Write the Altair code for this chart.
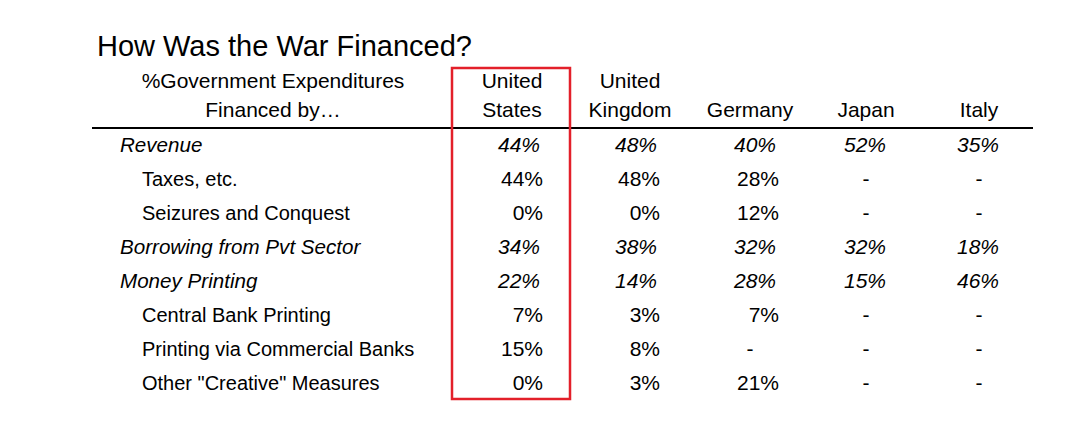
import altair as alt
import pandas as pd

title = "How Was the War Financed?"
stub_header = ["%Government Expenditures", "Financed by\u2026"]
rows = ["Revenue", "Taxes, etc.", "Seizures and Conquest", "Borrowing from Pvt Sector",
        "Money Printing", "Central Bank Printing", "Printing via Commercial Banks",
        'Other "Creative" Measures']
is_main = [True, False, False, True, True, False, False, False]
countries = ["US", "UK", "Germany", "Japan", "Italy"]
header_line1 = ["United", "United", "", "", ""]
header_line2 = ["States", "Kingdom", "Germany", "Japan", "Italy"]
us = ["44%", "44%", "0%", "34%", "22%", "7%", "15%", "0%"]
uk = ["48%", "48%", "0%", "38%", "14%", "3%", "8%", "3%"]
germany = ["40%", "28%", "12%", "32%", "28%", "7%", "-", "21%"]
japan = ["52%", "-", "-", "32%", "15%", "-", "-", "-"]
italy = ["35%", "-", "-", "18%", "46%", "-", "-", "-"]
highlight = "US"

# layout (styles / positions, not data)
FONT = "Liberation Sans"
FS = 20
FSM = 20.6
FSV = 21
W, H = 1064, 421
col_right = {"US": 535, "UK": 652, "Germany": 771, "Japan": 881, "Italy": 994}
head_x = {"US": 504, "UK": 622, "Germany": 742, "Japan": 858, "Italy": 971}

values = {"US": us, "UK": uk, "Germany": germany, "Japan": japan, "Italy": italy}
recs = []
for c in countries:
    for i, r in enumerate(rows):
        recs.append({"row": r, "country": c, "value": values[c][i], "main": is_main[i]})
df = pd.DataFrame(recs)
stub = pd.DataFrame({"row": rows, "main": is_main})
heads = pd.DataFrame({"country": countries, "l1": header_line1, "l2": header_line2})

yscale = alt.Scale(type="point", domain=rows, range=[138, 376], padding=0)
Y = alt.Y("row:N", scale=yscale, axis=None)

layers = []
# title
layers.append(alt.Chart(pd.DataFrame({"t": [title]})).mark_text(
    align="left", baseline="middle", font=FONT, fontSize=29, color="black"
).encode(x=alt.value(89), y=alt.value(39), text="t:N"))
# stub header
for line, yy in zip(stub_header, [74, 103]):
    layers.append(alt.Chart(pd.DataFrame({"t": [line]})).mark_text(
        align="center", baseline="middle", font=FONT, fontSize=21, color="black"
    ).encode(x=alt.value(265), y=alt.value(yy), text="t:N"))
# column headers
for c in countries:
    hc = alt.Chart(heads).transform_filter(alt.datum.country == c)
    layers.append(hc.mark_text(align="center", baseline="middle", font=FONT, fontSize=21, color="black")
                  .encode(x=alt.value(head_x[c]), y=alt.value(74), text="l1:N"))
    layers.append(hc.mark_text(align="center", baseline="middle", font=FONT, fontSize=21, color="black")
                  .encode(x=alt.value(head_x[c]), y=alt.value(103), text="l2:N"))
# header rule
layers.append(alt.Chart(pd.DataFrame({"a": [0]})).mark_rule(color="black", strokeWidth=2)
              .encode(x=alt.value(84), x2=alt.value(1025), y=alt.value(120)))
# row labels
layers.append(alt.Chart(stub).transform_filter(alt.datum.main).mark_text(
    align="left", baseline="middle", font=FONT, fontSize=FSM, fontStyle="italic", color="black"
).encode(x=alt.value(112), y=Y, text="row:N"))
layers.append(alt.Chart(stub).transform_filter(~alt.datum.main).mark_text(
    align="left", baseline="middle", font=FONT, fontSize=FS, color="black"
).encode(x=alt.value(134), y=Y, text="row:N"))
# values: numbers right-aligned, dashes centred under the header
for c in countries:
    base = alt.Chart(df).transform_filter(alt.datum.country == c)
    nums = base.transform_filter(alt.datum.value != "-")
    layers.append(nums.transform_filter(alt.datum.main).mark_text(
        align="right", baseline="middle", font=FONT, fontSize=FSV, fontStyle="italic", color="black"
    ).encode(x=alt.value(col_right[c] - 3), y=Y, text="value:N"))
    layers.append(nums.transform_filter(~alt.datum.main).mark_text(
        align="right", baseline="middle", font=FONT, fontSize=FSV, color="black"
    ).encode(x=alt.value(col_right[c]), y=Y, text="value:N"))
    layers.append(base.transform_filter(alt.datum.value == "-").mark_text(
        align="center", baseline="middle", font=FONT, fontSize=FSV, color="black"
    ).encode(x=alt.value(head_x[c]), y=Y, text="value:N"))
# highlight box around the highlighted column
layers.append(alt.Chart(pd.DataFrame({"country": [highlight]})).mark_rect(
    fill=None, stroke="#e3202a", strokeWidth=2.5
).encode(x=alt.value(444), x2=alt.value(562), y=alt.value(60), y2=alt.value(391)))

chart = alt.layer(*layers).properties(
    width=W, height=H, padding=0, background="white",
    autosize=alt.AutoSizeParams(type="none")
).configure_view(stroke=None)

chart.save("out.html", embed_options={"renderer": "svg", "actions": False})
